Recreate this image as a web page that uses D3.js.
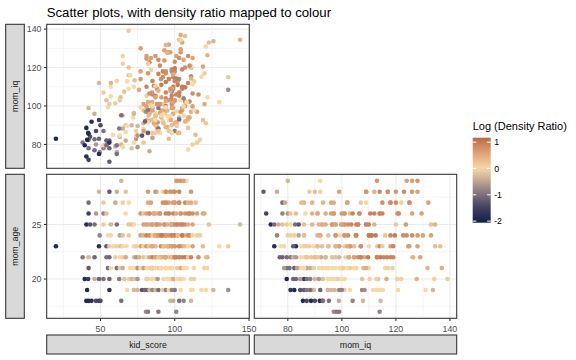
<!DOCTYPE html>
<html>
<head>
<meta charset="utf-8">
<script src="https://cdn.jsdelivr.net/npm/d3@7/dist/d3.min.js"></script>
<style>
  html, body { margin: 0; padding: 0; background: #ffffff; }
  svg { display: block; font-family: "Liberation Sans", Arial, sans-serif; }
</style>
</head>
<body>
<svg id="chart" width="576" height="360"></svg>
<script>
// ---------------- data (grouped by mom_age row) ----------------
const kidScore = [
  64,108,101,102,104,106,
  56,49,61,67,88,92,82,87,94,97,99,100,103,111,
  42,60,52,65,69,82,84,92,94,96,99,100,103,107,109,111,114,
  42,52,47,54,67,77,79,81,83,86,88,90,94,96,99,101,104,107,109,110,112,115,119,120,
  40.5,43,46,61,57,52,69,71,72.5,123,144,83,79,81,85,87,88,90,93,95,97.5,99,101,103,105,107,109,112,
  49.5,55,57,63,65,69,77,79,81,83,85,87,89,91,92,94,96,98,100,102,105,107,109,110,112,115,117,
  20,49,54,56,58.5,61,63.5,65,67.6,72.5,74,77,79,81,82.4,84.7,87,90.7,92.5,95,96,98,100,103,105,107,109,112,119,130,136,
  38,42,46,54,56,60,63,65,67,72.5,74,76,79,81,83,85,87,89,91,93,94,96,98,100,101,103,105,107,109,111,116,121,122,
  42,55,57,61,63,65,70,72,74,75,77,79,81,82,84,85,87,89,90,91,94,96,98,101.5,104,106,108,113,120,122,
  39.4,41.7,46,49,52,56,62.6,66,69,71,73,75,81,82,85,87,88.5,92.5,95,97,99,101.5,104,106,111,113,
  41,56,68,72.5,75,78,80,82,83,85,87,89,92,94,96,98,100,104,111,112,118,121,126,136,
  40.5,42,44,47,49,50,64,97,99,103,106,111,
  80.6,82,89,101,
  90,96,104,86,110,83,
  93,97.5,88,101,85,105,81,
  87,94,98,102,89,105,91,
  87,92.5,98,100,84.7,103,95,
  91,94,98,100,87,103,89,
  87,91,94,84,98,
  92.5,95,85,
  94,99,103,
  94,97
];
const momIq = [
  80,92,126,113,128,124,
  71,112,76,90,88,92,117,126,99,128,109,123,114,120,
  78,79,107,122,109,102,125,115,89,132,96,118,86,120,93,97,85,
  72,78,80,103,86.5,114,81,126,96,110.5,89,121,104,83,115,91,129.5,100,112,94,106.5,97,120.5,101,
  73.7,84,82.7,75,112,79.6,120,78,81,133,134.5,76.5,101,92.7,106,86,109,96.4,123.7,89,103.5,110,91.5,105.3,97.7,102.3,94,99.8,
  76,99.3,105,84,95,116,130,91,110,122.7,86,105.3,124,97.7,118,112.5,128,101,119.6,111,133,92,126,102.3,80,81,82.4,
  83,75,82,101,85,113,104.5,78.6,89.6,110,87,118,88,124.6,95,107,86,114,97.7,128,103,119,91,134.5,99,136.4,77.4,125,92.7,102,115,
  81,99,77,79.6,78,101.4,84.6,126,82,96.4,83,108.4,97.7,86,92.3,113,90,116.7,104.5,129,107,87,118,102.6,114.3,94,119,109.7,88.6,115.5,106,91,126.4,
  82.4,80.6,110,79.6,103,88.3,116,94,84.6,78.6,99.3,87,105.3,91.5,118.7,83.4,96.4,108,86,100.5,131.7,92.7,109,89.6,137,95,102,97.7,117,104.5,
  79.6,86,96,83,87,82,88.3,107.5,139.1,90,113.4,84.6,98.5,122,93,110.3,91.5,101,127.7,94.8,116.5,97.3,134.2,99.8,120.5,112.8,
  82.4,81,112.8,96,89.6,84.6,92,86,97.3,99,94.8,88.3,101,100,114,107.5,87,103,120.8,111.5,115.2,131,133.7,108.4,
  88.6,85.6,91.8,87,92.7,90,95.2,107.8,98.9,93,104,114.3,
  97,98,99,114,
  101,114,97,91,121,106.5,
  96.4,92.7,101,106,97.7,109,99.8,
  92,97.7,105.3,86,101,110,111,
  95,91,99,103,102,107,97.7,
  94,102.6,90,113,104.5,107,87,
  92.7,95,99.3,100.5,86,
  96,94.8,99.8,
  118,102,125,
  117,109
];
const momAge = [
  29,29,29,29,29,29,
  28,28,28,28,28,28,28,28,28,28,28,28,28,28,
  27,27,27,27,27,27,27,27,27,27,27,27,27,27,27,27,27,
  26,26,26,26,26,26,26,26,26,26,26,26,26,26,26,26,26,26,26,26,26,26,26,26,
  25,25,25,25,25,25,25,25,25,25,25,25,25,25,25,25,25,25,25,25,25,25,25,25,25,25,25,25,
  24,24,24,24,24,24,24,24,24,24,24,24,24,24,24,24,24,24,24,24,24,24,24,24,24,24,24,
  23,23,23,23,23,23,23,23,23,23,23,23,23,23,23,23,23,23,23,23,23,23,23,23,23,23,23,23,23,23,23,
  22,22,22,22,22,22,22,22,22,22,22,22,22,22,22,22,22,22,22,22,22,22,22,22,22,22,22,22,22,22,22,22,22,
  21,21,21,21,21,21,21,21,21,21,21,21,21,21,21,21,21,21,21,21,21,21,21,21,21,21,21,21,21,21,
  20,20,20,20,20,20,20,20,20,20,20,20,20,20,20,20,20,20,20,20,20,20,20,20,20,20,
  19,19,19,19,19,19,19,19,19,19,19,19,19,19,19,19,19,19,19,19,19,19,19,19,
  18,18,18,18,18,18,18,18,18,18,18,18,
  17,17,17,17,
  26,26,26,26,26,26,
  25,25,25,25,25,25,25,
  24,24,24,24,24,24,24,
  23,23,23,23,23,23,23,
  22,22,22,22,22,22,22,
  21,21,21,21,21,
  20,20,20,
  27,27,27,
  28,28
];
const logDensityRatio = [
  -0.3,0.0,0.6,0.7,0.7,0.6,
  -1.2,-0.3,-0.4,-0.2,-0.1,0.1,0.7,0.7,0.6,0.6,0.8,0.8,0.9,0.7,
  -1.0,-0.4,-0.1,0.1,0.0,0.5,0.6,0.8,0.4,0.6,0.5,0.8,0.4,0.8,0.4,0.5,0.3,
  -1.5,-0.8,-0.6,-0.2,0.0,0.7,0.2,0.6,0.6,0.9,0.4,0.8,0.9,0.3,0.9,0.5,0.6,0.7,0.9,0.5,0.8,0.6,0.6,0.5,
  -1.8,-1.3,-1.0,-1.0,-0.3,-0.1,0.2,-0.2,0.0,-0.2,-0.3,-0.4,0.6,0.3,0.9,0.3,0.9,0.6,0.7,0.4,0.9,0.9,0.4,0.9,0.6,0.8,0.5,0.6,
  -0.8,0.0,0.0,-0.5,-0.2,0.2,0.6,0.4,0.9,0.8,0.2,0.9,0.8,0.6,0.9,1.0,0.7,0.8,1.0,1.0,0.6,0.4,0.8,0.8,0.1,0.1,0.1,
  -1.9,-1.8,-1.2,-0.1,0.0,0.1,0.3,0.0,0.0,0.0,0.1,0.6,0.1,0.7,0.3,0.7,0.1,0.8,0.4,0.6,0.7,0.9,0.4,0.3,0.5,0.3,0.0,0.6,0.3,0.0,-0.1,
  -0.9,-0.3,-1.1,-1.0,-1.1,-0.1,0.0,0.1,-0.4,-0.2,-0.6,0.5,-0.2,0.0,-0.4,0.9,0.3,0.9,0.6,0.6,0.9,0.2,0.9,0.5,1.0,0.4,0.9,1.0,0.2,0.9,0.8,0.2,0.4,
  -1.2,-1.0,0.0,-1.0,-0.1,-0.4,0.0,0.0,0.0,-0.6,0.0,-0.5,0.1,0.0,0.1,-0.5,0.0,0.4,0.0,0.0,0.4,0.0,0.5,-0.1,0.5,0.0,0.0,0.0,0.1,0.0,
  -1.9,-1.6,-0.4,-1.1,-1.0,-1.1,-0.9,-0.2,-0.1,-0.3,-0.2,-0.6,-0.1,0.1,-0.2,0.1,-0.6,0.0,0.4,0.0,0.5,0.0,0.1,0.0,0.1,0.1,
  -1.9,-1.7,0.0,-0.3,-0.3,-1.3,-1.1,-1.2,-0.3,-0.8,-0.3,-1.0,-0.1,-0.8,0.0,-0.8,-0.9,0.0,0.0,0.0,0.0,0.0,-0.3,-0.7,
  -1.9,-1.9,-1.8,-1.4,-1.6,-1.4,-1.0,-0.3,-0.4,-1.0,-0.8,-0.3,
  -0.7,-0.9,-0.9,-0.8,
  0.7,0.9,0.7,0.5,0.8,0.8,
  0.7,0.5,0.7,0.9,0.6,0.9,0.6,
  0.5,0.7,0.9,0.3,0.7,1.0,1.0,
  0.3,0.3,0.6,0.7,0.5,0.8,0.4,
  0.4,0.5,0.3,0.9,0.6,0.9,0.2,
  0.0,0.0,0.0,0.1,0.0,
  0.0,0.0,0.0,
  0.8,0.6,0.8,
  0.8,0.7
];

// axis breaks / labels
const kidBreaks = [50, 100, 150];
const kidMinor = [25, 75, 125];
const iqBreaks = [80, 100, 120, 140];
const iqMinor = [70, 90, 110, 130];
const ageBreaks = [20, 25];
const ageMinor = [17.5, 22.5, 27.5];
const legendBreaks = [-2, -1, 0, 1];
const ratioRange = [-2.06, 1.17];
const colourStops = [-2.06, -1.5, -1, -0.5, 0, 0.5, 1, 1.17];
const colourValues = ["#0f1f48", "#403f60", "#7c6f7d", "#bba48f", "#f8d8a6", "#e2aa7e", "#c47c57", "#b8684a"];
const titleText = "Scatter plots, with density ratio mapped to colour";
const legendTitle = "Log (Density Ratio)";

// ---------------- layout ----------------
const svg = d3.select("#chart");
const n = Math.min(kidScore.length, momIq.length, momAge.length, logDensityRatio.length);
const data = d3.range(n).map(i => ({kid: kidScore[i], iq: momIq[i], age: momAge[i], v: logDensityRatio[i]}));

function expand(ext) { const r = ext[1] - ext[0]; return [ext[0] - 0.05 * r, ext[1] + 0.05 * r]; }
const cols = [[46.7, 249.3], [254.3, 456.7]];
const rows = [[24.3, 168.3], [174.3, 318.3]];

const vars = {
  kid: {dom: expand(d3.extent(data, d => d.kid)), major: kidBreaks, minor: kidMinor},
  iq: {dom: expand(d3.extent(data, d => d.iq)), major: iqBreaks, minor: iqMinor},
  age: {dom: expand(d3.extent(data, d => d.age)), major: ageBreaks, minor: ageMinor}
};

const colour = d3.scaleLinear().domain(colourStops).range(colourValues).interpolate(d3.interpolateLab).clamp(true);

const panels = [
  {xv: "kid", yv: "iq", c: 0, r: 0, xAxis: false, yAxis: true},
  {xv: "kid", yv: "age", c: 0, r: 1, xAxis: true, yAxis: true},
  {xv: "iq", yv: "age", c: 1, r: 1, xAxis: true, yAxis: false}
];

const dark = "#333333";
const axisCol = "#4d4d4d";

panels.forEach(p => {
  const [x0, x1] = cols[p.c];
  const [y0, y1] = rows[p.r];
  const xs = d3.scaleLinear().domain(vars[p.xv].dom).range([x0, x1]);
  const ys = d3.scaleLinear().domain(vars[p.yv].dom).range([y1, y0]);
  const g = svg.append("g");
  g.append("rect").attr("x", x0).attr("y", y0).attr("width", x1 - x0).attr("height", y1 - y0).attr("fill", "#ffffff");
  g.selectAll(null).data(vars[p.xv].minor).join("line")
    .attr("x1", d => xs(d)).attr("x2", d => xs(d)).attr("y1", y0).attr("y2", y1)
    .attr("stroke", "#ebebeb").attr("stroke-width", 0.55);
  g.selectAll(null).data(vars[p.yv].minor).join("line")
    .attr("y1", d => ys(d)).attr("y2", d => ys(d)).attr("x1", x0).attr("x2", x1)
    .attr("stroke", "#ebebeb").attr("stroke-width", 0.55);
  g.selectAll(null).data(vars[p.xv].major.filter(d => xs(d) >= x0 && xs(d) <= x1)).join("line")
    .attr("x1", d => xs(d)).attr("x2", d => xs(d)).attr("y1", y0).attr("y2", y1)
    .attr("stroke", "#ebebeb").attr("stroke-width", 1.07);
  g.selectAll(null).data(vars[p.yv].major).join("line")
    .attr("y1", d => ys(d)).attr("y2", d => ys(d)).attr("x1", x0).attr("x2", x1)
    .attr("stroke", "#ebebeb").attr("stroke-width", 1.07);
  g.selectAll(null).data(data).join("circle")
    .attr("cx", d => xs(d[p.xv])).attr("cy", d => ys(d[p.yv])).attr("r", 2.3)
    .attr("fill", d => colour(d.v));
  g.append("rect").attr("x", x0).attr("y", y0).attr("width", x1 - x0).attr("height", y1 - y0)
    .attr("fill", "none").attr("stroke", dark).attr("stroke-width", 1.07);
  if (p.yAxis) {
    const ya = g.append("g");
    ya.selectAll(null).data(vars[p.yv].major).join("line")
      .attr("x1", x0 - 2.74).attr("x2", x0).attr("y1", d => ys(d)).attr("y2", d => ys(d))
      .attr("stroke", dark).attr("stroke-width", 1.07);
    ya.selectAll(null).data(vars[p.yv].major).join("text")
      .attr("x", x0 - 5.2).attr("y", d => ys(d)).attr("dy", "0.35em")
      .attr("text-anchor", "end").attr("font-size", 8.8).attr("fill", axisCol).text(d => d);
  }
  if (p.xAxis) {
    const xa = g.append("g");
    xa.selectAll(null).data(vars[p.xv].major).join("line")
      .attr("x1", d => xs(d)).attr("x2", d => xs(d)).attr("y1", y1).attr("y2", y1 + 2.74)
      .attr("stroke", dark).attr("stroke-width", 1.07);
    xa.selectAll(null).data(vars[p.xv].major).join("text")
      .attr("x", d => xs(d)).attr("y", y1 + 13.3)
      .attr("text-anchor", "middle").attr("font-size", 8.8).attr("fill", axisCol).text(d => d);
  }
});

// strips
const stripFill = "#d9d9d9";
const leftStrips = [{label: "mom_iq", r: 0}, {label: "mom_age", r: 1}];
leftStrips.forEach(s => {
  const [y0, y1] = rows[s.r];
  svg.append("rect").attr("x", 5.7).attr("y", y0).attr("width", 18.6).attr("height", y1 - y0)
    .attr("fill", stripFill).attr("stroke", dark).attr("stroke-width", 1.07);
  svg.append("text").attr("transform", `translate(15,${(y0 + y1) / 2}) rotate(-90)`).attr("dy", "0.35em")
    .attr("text-anchor", "middle").attr("font-size", 8.8).attr("fill", "#1a1a1a").text(s.label);
});
const bottomStrips = [{label: "kid_score", c: 0}, {label: "mom_iq", c: 1}];
bottomStrips.forEach(s => {
  const [x0, x1] = cols[s.c];
  svg.append("rect").attr("x", x0).attr("y", 335).attr("width", x1 - x0).attr("height", 19)
    .attr("fill", stripFill).attr("stroke", dark).attr("stroke-width", 1.07);
  svg.append("text").attr("x", (x0 + x1) / 2).attr("y", 344.5).attr("dy", "0.35em")
    .attr("text-anchor", "middle").attr("font-size", 8.8).attr("fill", "#1a1a1a").text(s.label);
});

// title
svg.append("text").attr("x", 46.7).attr("y", 17.3).attr("font-size", 13.2).attr("fill", "#000").text(titleText);

// legend
const lx = 472.7, lw = 18, ly0 = 137.7, ly1 = 222.7;
svg.append("text").attr("x", lx).attr("y", 130).attr("font-size", 11).attr("fill", "#000").text(legendTitle);
const ly = d3.scaleLinear().domain(ratioRange).range([ly1, ly0]);
const grad = svg.append("defs").append("linearGradient").attr("id", "cbar")
  .attr("x1", 0).attr("y1", 1).attr("x2", 0).attr("y2", 0);
d3.range(0, 1.0001, 0.05).forEach(t => {
  const v = ratioRange[0] + t * (ratioRange[1] - ratioRange[0]);
  grad.append("stop").attr("offset", t).attr("stop-color", colour(v));
});
svg.append("rect").attr("x", lx).attr("y", ly0).attr("width", lw).attr("height", ly1 - ly0).attr("fill", "url(#cbar)");
legendBreaks.forEach(b => {
  const y = ly(b);
  svg.append("line").attr("x1", lx).attr("x2", lx + 3.6).attr("y1", y).attr("y2", y).attr("stroke", "#fff").attr("stroke-width", 1);
  svg.append("line").attr("x1", lx + lw - 3.6).attr("x2", lx + lw).attr("y1", y).attr("y2", y).attr("stroke", "#fff").attr("stroke-width", 1);
  svg.append("text").attr("x", lx + lw + 3.5).attr("y", y).attr("dy", "0.35em").attr("font-size", 8.8)
    .attr("fill", "#000").text(b);
});
</script>
</body>
</html>
